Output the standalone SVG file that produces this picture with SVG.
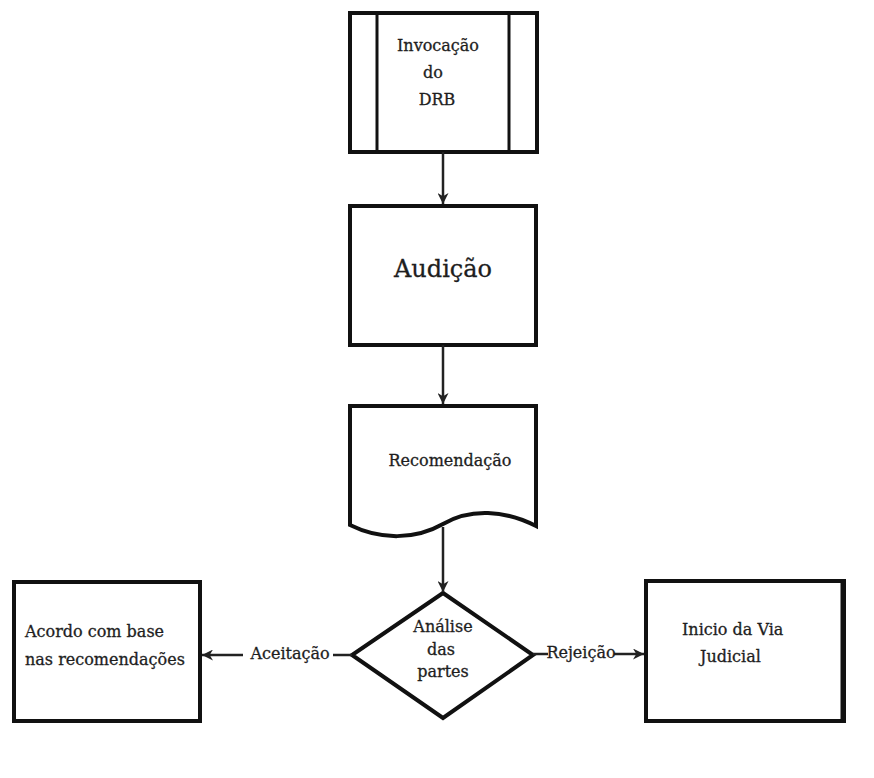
<svg xmlns="http://www.w3.org/2000/svg" width="874" height="778" viewBox="0 0 874 778">
  <style>
    .box { fill: #ffffff; stroke: #111111; stroke-width: 4; }
    .thin { stroke: #111111; stroke-width: 3; fill: none; }
    .edge { stroke: #222222; stroke-width: 2.5; fill: none; }
    .txt { font-family: "DejaVu Serif", "Liberation Serif", serif; font-size: 16px; fill: #1e1e1e; stroke: #1e1e1e; stroke-width: 0.3; }
    .big { font-family: "DejaVu Serif", "Liberation Serif", serif; font-size: 24px; fill: #1e1e1e; stroke: #1e1e1e; stroke-width: 0.3; }
  </style>
  <defs>
    <marker id="arrow" viewBox="0 0 10 10" refX="10" refY="5" markerWidth="11" markerHeight="11" orient="auto" markerUnits="userSpaceOnUse">
      <path d="M0,0 L10,5 L0,10 L3,5 Z" fill="#222222"/>
    </marker>
  </defs>
  <rect width="874" height="778" fill="#ffffff"/>

  <!-- predefined process: Invocação do DRB -->
  <g id="invocacao">
    <rect class="box" x="350" y="13" width="187" height="139"/>
    <line class="thin" x1="377" y1="13" x2="377" y2="152"/>
    <line class="thin" x1="509" y1="13" x2="509" y2="152"/>
    <text class="txt" x="438" y="51" text-anchor="middle">Invocação</text>
    <text class="txt" x="433" y="78" text-anchor="middle">do</text>
    <text class="txt" x="437" y="105" text-anchor="middle">DRB</text>
  </g>

  <!-- process: Audição -->
  <g id="audicao">
    <rect class="box" x="350" y="206" width="186" height="139"/>
    <text class="big" x="443" y="277" text-anchor="middle">Audição</text>
  </g>

  <!-- document: Recomendação -->
  <g id="recomendacao">
    <path class="box" d="M350,406 L536,406 L536,526 C505,510 470,508 443,524 C415,540 380,540 350,525 Z"/>
    <text class="txt" x="450" y="466" text-anchor="middle">Recomendação</text>
  </g>

  <!-- decision: Análise das partes -->
  <g id="analise">
    <path class="box" d="M443,593 L533,655 L443,718 L352,655 Z"/>
    <text class="txt" x="443" y="632" text-anchor="middle">Análise</text>
    <text class="txt" x="441" y="655" text-anchor="middle">das</text>
    <text class="txt" x="443" y="677" text-anchor="middle">partes</text>
  </g>

  <!-- outcome: Acordo -->
  <g id="acordo">
    <rect class="box" x="14" y="582" width="186" height="139"/>
    <text class="txt" x="25" y="637">Acordo com base</text>
    <text class="txt" x="25" y="665">nas recomendações</text>
  </g>

  <!-- outcome: Início da Via Judicial -->
  <g id="via-judicial">
    <rect class="box" x="646" y="581" width="198" height="140"/>
    <line x1="843" y1="581" x2="843" y2="721" stroke="#111111" stroke-width="5"/>
    <text class="txt" x="682" y="635">Inicio da Via</text>
    <text class="txt" x="700" y="662">Judicial</text>
  </g>

  <!-- connectors -->
  <g id="connectors">
    <line class="edge" x1="443" y1="152" x2="443" y2="204" marker-end="url(#arrow)"/>
    <line class="edge" x1="443" y1="345" x2="443" y2="404" marker-end="url(#arrow)"/>
    <line class="edge" x1="443" y1="527" x2="443" y2="592" marker-end="url(#arrow)"/>
    <line class="edge" x1="352" y1="655" x2="333" y2="655"/>
    <line class="edge" x1="243" y1="655" x2="202" y2="655" marker-end="url(#arrow)"/>
    <text class="txt" x="290" y="659" text-anchor="middle">Aceitação</text>
    <line class="edge" x1="533" y1="654" x2="548" y2="654"/>
    <line class="edge" x1="614" y1="654" x2="644" y2="654" marker-end="url(#arrow)"/>
    <text class="txt" x="581" y="658" text-anchor="middle">Rejeição</text>
  </g>
</svg>
